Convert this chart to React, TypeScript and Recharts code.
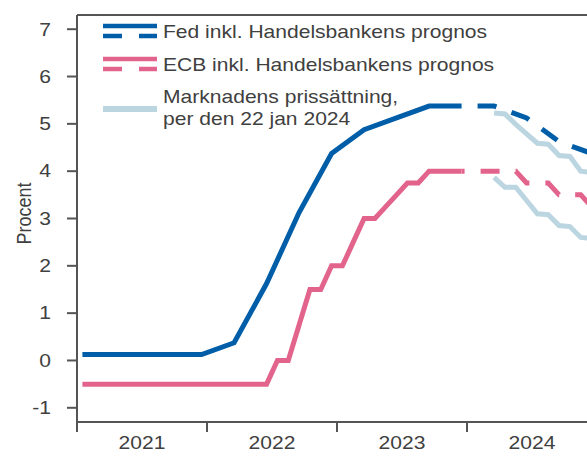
import { LineChart, Line, XAxis, YAxis, ReferenceLine, Legend } from "recharts";

const FONT = '"Liberation Sans", Arial, Helvetica, sans-serif';
const TEXT = "#404040";
const AXIS = "#555555";
const BLUE = "#005EA8";
const PINK = "#E2648D";
const LIGHT = "#BBD5E1";
const STRETCH = 1.17;

const CHART_W = 597;
const CHART_H = 456;
const Y_W = 77;
const HALF_YEAR = ((CHART_W - Y_W) / 48) * 6;

const yearLabels = ["2021", "2022", "2023", "2024"];
const yearTicks = [0, 12, 24, 36, 48];
const yTicks = [-1, 0, 1, 2, 3, 4, 5, 6, 7];

const legendLabels = [
  "Fed inkl. Handelsbankens prognos",
  "ECB inkl. Handelsbankens prognos",
  "Marknadens prissättning,",
  "per den 22 jan 2024",
];

// Fed, kvartalsvis
const fedDates = ["2021-01", "2021-03", "2021-06", "2021-09", "2021-12", "2022-03", "2022-06", "2022-09", "2022-12", "2023-03", "2023-06", "2023-09", "2023-12"];
const fedRates = [0.125, 0.125, 0.125, 0.125, 0.125, 0.375, 1.625, 3.125, 4.375, 4.875, 5.125, 5.375, 5.375];
const fedForecastDates = ["2023-12", "2024-03", "2024-06", "2024-09", "2024-12"];
const fedForecast = [5.375, 5.375, 5.125, 4.625, 4.375];

// ECB, månadsvis
const ecbDates = ["2021-01", "2022-06", "2022-07", "2022-08", "2022-09", "2022-10", "2022-11", "2022-12", "2023-01", "2023-02", "2023-03", "2023-04", "2023-05", "2023-06", "2023-07", "2023-08", "2023-09", "2023-12"];
const ecbRates = [-0.5, -0.5, 0, 0, 0.75, 1.5, 1.5, 2, 2, 2.5, 3, 3, 3.25, 3.5, 3.75, 3.75, 4, 4];
const ecbForecastDates = ["2023-12", "2024-05", "2024-06", "2024-08", "2024-09", "2024-11", "2024-12"];
const ecbForecast = [4, 4, 3.75, 3.75, 3.5, 3.5, 3.25];

// marknadens prissättning 22 jan 2024
const marketDates = ["2024-03", "2024-04", "2024-05", "2024-06", "2024-07", "2024-08", "2024-09", "2024-10", "2024-11", "2024-12"];
const fedMarket = [5.23, 5.21, 4.99, 4.79, 4.59, 4.57, 4.33, 4.31, 4.0, 3.97];
const ecbMarket = [3.87, 3.66, 3.66, 3.38, 3.1, 3.08, 2.85, 2.83, 2.6, 2.58];

const toT = (d: string) => {
  const [y, m] = d.split("-").map(Number);
  return (y - 2021) * 12 + (m - 1) + 0.5;
};
const series = (dates: string[], vals: number[]) => dates.map((d, i) => ({ t: toT(d), v: vals[i] }));

const YTick = ({ x, y, payload }: any) => (
  <text transform={`translate(${x},${y}) scale(${STRETCH},1)`} textAnchor="end" dy="0.35em" fontSize={18} fontFamily={FONT} fill={TEXT}>
    {payload.value}
  </text>
);

const XTick = ({ x, y, payload }: any) => {
  const i = Math.round(payload.value / 12);
  if (i >= yearLabels.length) return <g />;
  return (
    <text transform={`translate(${x + HALF_YEAR},${y + 15}) scale(${STRETCH},1)`} textAnchor="middle" fontSize={18} fontFamily={FONT} fill={TEXT}>
      {yearLabels[i]}
    </text>
  );
};

const YLabel = ({ viewBox }: any) => {
  const cy = viewBox ? viewBox.y + viewBox.height / 2 - 5 : 213;
  return (
    <text transform={`translate(24,${cy}) scale(${STRETCH},1) rotate(-90)`} textAnchor="middle" dy="0.35em" fontSize={18} fontFamily={FONT} fill={TEXT}>
      Procent
    </text>
  );
};

const legendText = (label: string, y: number) => (
  <text key={label} transform={`translate(163,${y}) scale(${STRETCH},1)`} fontSize={18} fontFamily={FONT} fill={TEXT}>
    {label}
  </text>
);

const renderLegend = () => (
  <svg width={500} height={140} style={{ display: "block" }}>
    <line x1={103} x2={157} y1={26} y2={26} stroke={BLUE} strokeWidth={4.5} />
    <line x1={103} x2={157} y1={36} y2={36} stroke={BLUE} strokeWidth={4.5} strokeDasharray="19 17" />
    <line x1={103} x2={157} y1={59} y2={59} stroke={PINK} strokeWidth={4.5} />
    <line x1={103} x2={157} y1={69} y2={69} stroke={PINK} strokeWidth={4.5} strokeDasharray="19 17" />
    <line x1={103} x2={157} y1={109} y2={109} stroke={LIGHT} strokeWidth={6} />
    {legendText(legendLabels[0], 37.5)}
    {legendText(legendLabels[1], 71)}
    {legendText(legendLabels[2], 103)}
    {legendText(legendLabels[3], 125)}
  </svg>
);

export default function App() {
  return (
    <div style={{ position: "absolute", left: 0, top: 0, width: 587, height: 456, overflow: "hidden", background: "#fff" }}>
      <LineChart width={CHART_W} height={CHART_H} margin={{ top: 15, right: 0, bottom: 0, left: 0 }}>
        <XAxis
          dataKey="t"
          type="number"
          domain={[0, 48]}
          ticks={yearTicks}
          allowDataOverflow
          height={34}
          tickSize={10}
          tickMargin={2}
          axisLine={{ stroke: AXIS, strokeWidth: 2 }}
          tickLine={{ stroke: AXIS, strokeWidth: 2 }}
          tick={<XTick />}
          interval={0}
        />
        <YAxis
          type="number"
          domain={[-1.3, 7.3]}
          ticks={yTicks}
          allowDataOverflow
          width={Y_W}
          tickSize={10}
          tickMargin={16}
          axisLine={{ stroke: AXIS, strokeWidth: 2 }}
          tickLine={{ stroke: AXIS, strokeWidth: 2 }}
          tick={<YTick />}
          interval={0}
          label={{ content: <YLabel /> }}
        />
        <ReferenceLine y={7.3} stroke={AXIS} strokeWidth={2} />
        <Legend
          layout="vertical"
          align="center"
          verticalAlign="middle"
          content={renderLegend}
          wrapperStyle={{ left: 0, top: 0, width: 500, height: 140 }}
        />
        <Line data={series(marketDates, fedMarket)} dataKey="v" type="linear" stroke={LIGHT} strokeWidth={5} dot={false} isAnimationActive={false} />
        <Line data={series(marketDates, ecbMarket)} dataKey="v" type="linear" stroke={LIGHT} strokeWidth={5} dot={false} isAnimationActive={false} />
        <Line data={series(ecbDates, ecbRates)} dataKey="v" type="linear" stroke={PINK} strokeWidth={5} dot={false} isAnimationActive={false} />
        <Line data={series(ecbForecastDates, ecbForecast)} dataKey="v" type="linear" stroke={PINK} strokeWidth={5} strokeDasharray="19 16" strokeDashoffset={16} dot={false} isAnimationActive={false} />
        <Line data={series(fedDates, fedRates)} dataKey="v" type="linear" stroke={BLUE} strokeWidth={5} dot={false} isAnimationActive={false} />
        <Line data={series(fedForecastDates, fedForecast)} dataKey="v" type="linear" stroke={BLUE} strokeWidth={5} strokeDasharray="19 16" strokeDashoffset={19} dot={false} isAnimationActive={false} />
      </LineChart>
    </div>
  );
}
